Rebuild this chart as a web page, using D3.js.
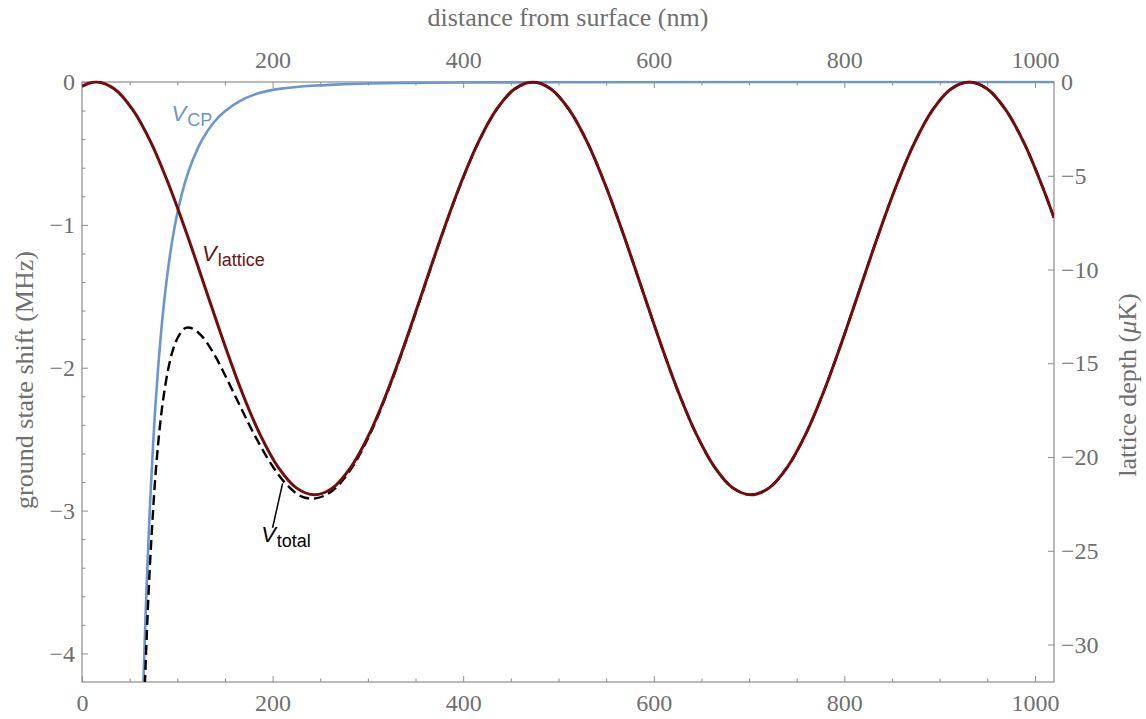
<!DOCTYPE html>
<html>
<head>
<meta charset="utf-8">
<script src="https://d3js.org/d3.v7.min.js"></script>
<style>
  body { margin: 0; background: #fff; }
  svg { display: block; }
  .tick text { font-family: "Liberation Serif", serif; font-size: 24px; fill: #6f6f6f; }
  .tick line { stroke: #8c8c8c; stroke-width: 1; }
  .title { font-family: "Liberation Serif", serif; font-size: 26px; fill: #6f6f6f; }
  .lbl { font-family: "Liberation Sans", Arial, sans-serif; }
</style>
</head>
<body>
<script>
"use strict";

// distance from surface (nm) and lattice potential (MHz)
var latticeX = [0, 15.0, 34.1, 53.2, 72.3, 91.3, 110.4, 129.5, 148.6, 167.7, 186.8,
  205.8, 224.9, 244.0, 263.1, 282.2, 301.3, 320.3, 339.4, 358.5, 377.6, 396.7,
  415.8, 434.8, 453.9, 473.0, 492.1, 511.2, 530.3, 549.3, 568.4, 587.5, 606.6,
  625.7, 644.8, 663.8, 682.9, 702.0, 721.1, 740.2, 759.3, 778.3, 797.4, 816.5,
  835.6, 854.7, 873.8, 892.8, 911.9, 931.0, 950.1, 969.2, 988.3, 1007.3, 1020];
var latticeV = [-0.030, 0, -0.049, -0.194, -0.423, -0.723, -1.071, -1.445, -1.819, -2.168, -2.467,
  -2.696, -2.841, -2.890, -2.841, -2.696, -2.467, -2.168, -1.819, -1.445, -1.071, -0.723,
  -0.423, -0.194, -0.049, 0, -0.049, -0.194, -0.423, -0.723, -1.071, -1.445, -1.819,
  -2.168, -2.467, -2.696, -2.841, -2.890, -2.841, -2.696, -2.467, -2.168, -1.819, -1.445,
  -1.071, -0.723, -0.423, -0.194, -0.049, 0, -0.049, -0.194, -0.423, -0.723, -0.951];

// Casimir-Polder shift (MHz)
var cpX = [63, 64.7, 67.5, 71, 74.5, 77, 79.8, 82.9, 86.1, 90.3, 95.2, 101.5, 108.5, 115.5,
  126, 138, 150, 165, 180, 200, 215, 230, 245, 260, 275, 300, 350, 400, 500, 700, 1020];
var cpV = [-4.55, -4.15, -3.59, -3.01, -2.55, -2.27, -2.01, -1.76, -1.545, -1.31, -1.09, -0.874,
  -0.694, -0.559, -0.405, -0.285, -0.205, -0.135, -0.09, -0.055, -0.042, -0.032, -0.025, -0.02,
  -0.016, -0.011, -0.006, -0.0035, -0.0015, -0.0004, 0];

// total potential (MHz)
var totalX = [63, 64.7, 67.5, 71, 74.5, 77, 79.8, 82.9, 86.1, 90.3, 95.2, 101.5, 108.5, 115.5,
  126, 138, 150, 165, 180, 200, 215, 230, 245,
  263.1, 282.2, 301.3, 320.3, 339.4, 358.5, 377.6, 396.7,
  415.8, 434.8, 453.9, 473.0, 492.1, 511.2, 530.3, 549.3, 568.4, 587.5, 606.6,
  625.7, 644.8, 663.8, 682.9, 702.0, 721.1, 740.2, 759.3, 778.3, 797.4, 816.5,
  835.6, 854.7, 873.8, 892.8, 911.9, 931.0, 950.1, 969.2, 988.3, 1007.3, 1020];
var totalV = [-4.85, -4.47, -3.95, -3.42, -3.01, -2.76, -2.54, -2.34, -2.18, -2.015, -1.88, -1.777,
  -1.722, -1.724, -1.781, -1.898, -2.051, -2.256, -2.458, -2.69, -2.82, -2.90, -2.915,
  -2.860, -2.710, -2.478, -2.176, -1.826, -1.450, -1.075, -0.727,
  -0.426, -0.196, -0.051, -0.001, -0.049, -0.194, -0.423, -0.723, -1.071, -1.445, -1.819,
  -2.168, -2.467, -2.696, -2.841, -2.890, -2.841, -2.696, -2.467, -2.168, -1.819, -1.445,
  -1.071, -0.723, -0.423, -0.194, -0.049, 0, -0.049, -0.194, -0.423, -0.723, -0.951];

var xMajor = [0, 200, 400, 600, 800, 1000];
var xTopMajor = [200, 400, 600, 800, 1000];
var leftMajor = [0, -1, -2, -3, -4];
var rightMajor = [0, -5, -10, -15, -20, -25, -30];

var width = 1146, height = 719;
var padL = 82, padR = 1054, padT = 82, padB = 682;

var svg = d3.select("body").append("svg")
    .attr("width", width)
    .attr("height", height);

var x = d3.scaleLinear().domain([0, 1020]).range([padL, padR]);
var y = d3.scaleLinear().domain([-4.2, 0]).range([padB, padT]);
var y2 = d3.scaleLinear().domain([-32, 0]).range([padB, padT]);

// minor tick positions
var xMinor = d3.range(0, 1021, 50).filter(function(d) { return d % 200 !== 0; });
var yMinor = d3.range(1, 21).map(function(i) { return -i * 0.2; })
    .filter(function(d) { return Math.abs(d - Math.round(d)) > 1e-6; });

var fmt = d3.format("d");
function noLabel() { return ""; }
function noDomain(g) { g.select(".domain").remove(); }

svg.append("g").attr("transform", "translate(0," + padB + ")")
    .call(d3.axisBottom(x).tickValues(xMajor).tickSize(-6).tickPadding(12).tickFormat(fmt))
    .call(noDomain);
svg.append("g").attr("transform", "translate(0," + padB + ")")
    .call(d3.axisBottom(x).tickValues(xMinor).tickSize(-3.5).tickFormat(noLabel))
    .call(noDomain);

svg.append("g").attr("transform", "translate(0," + padT + ")")
    .call(d3.axisTop(x).tickValues(xTopMajor).tickSize(-6).tickPadding(14).tickFormat(fmt))
    .call(noDomain);
svg.append("g").attr("transform", "translate(0," + padT + ")")
    .call(d3.axisTop(x).tickValues(xMinor).tickSize(-3.5).tickFormat(noLabel))
    .call(noDomain);

svg.append("g").attr("transform", "translate(" + padL + ",0)")
    .call(d3.axisLeft(y).tickValues(leftMajor).tickSize(-6).tickPadding(7).tickFormat(fmt))
    .call(noDomain);
svg.append("g").attr("transform", "translate(" + padL + ",0)")
    .call(d3.axisLeft(y).tickValues(yMinor).tickSize(-3.5).tickFormat(noLabel))
    .call(noDomain);

svg.append("g").attr("transform", "translate(" + padR + ",0)")
    .call(d3.axisRight(y2).tickValues(rightMajor).tickSize(-6).tickPadding(7).tickFormat(fmt))
    .call(noDomain);

// frame
svg.append("rect")
    .attr("x", padL).attr("y", padT)
    .attr("width", padR - padL).attr("height", padB - padT)
    .attr("fill", "none").attr("stroke", "#8c8c8c").attr("stroke-width", 1.2);

// axis titles
svg.append("text").attr("class", "title")
    .attr("x", (padL + padR) / 2).attr("y", 26)
    .attr("text-anchor", "middle")
    .text("distance from surface (nm)");
svg.append("text").attr("class", "title")
    .attr("transform", "translate(33," + ((padT + padB) / 2 - 2) + ") rotate(-90)")
    .attr("text-anchor", "middle")
    .text("ground state shift (MHz)");
var rt = svg.append("text").attr("class", "title")
    .attr("transform", "translate(1136," + ((padT + padB) / 2 + 3) + ") rotate(-90)")
    .attr("text-anchor", "middle");
rt.append("tspan").text("lattice depth (");
rt.append("tspan").attr("font-style", "italic").text("\u03bc");
rt.append("tspan").text("K)");

// curves
svg.append("clipPath").attr("id", "plot")
  .append("rect")
    .attr("x", padL).attr("y", padT - 1.5)
    .attr("width", padR - padL).attr("height", padB - padT + 1.5);

var line = d3.line()
    .x(function(d) { return x(d[0]); })
    .y(function(d) { return y(d[1]); })
    .curve(d3.curveCatmullRom.alpha(0.5));

var plot = svg.append("g").attr("clip-path", "url(#plot)");

plot.append("path")
    .datum(d3.zip(cpX, cpV))
    .attr("d", line)
    .attr("fill", "none").attr("stroke", "#6b96cd").attr("stroke-width", 2.6);

plot.append("path")
    .datum(d3.zip(totalX, totalV))
    .attr("d", line)
    .attr("fill", "none").attr("stroke", "#000").attr("stroke-width", 2.4)
    .attr("stroke-dasharray", "10,5");

plot.append("path")
    .datum(d3.zip(latticeX, latticeV))
    .attr("d", line)
    .attr("fill", "none").attr("stroke", "#730c0c").attr("stroke-width", 3);

// curve labels
function label(px, py, main, sub, color) {
  var t = svg.append("text").attr("class", "lbl")
      .attr("x", x(px)).attr("y", y(py)).attr("fill", color);
  t.append("tspan").attr("font-style", "italic").attr("font-size", 22).text(main);
  t.append("tspan").attr("font-size", 18).attr("dx", 1).attr("dy", 5).text(sub);
}
label(94, -0.27, "V", "CP", "#6b96cd");
label(126, -1.25, "V", "lattice", "#6a1410");
label(188, -3.22, "V", "total", "#000");

svg.append("line")
    .attr("x1", x(210.5)).attr("y1", y(-2.81))
    .attr("x2", x(200)).attr("y2", y(-3.12))
    .attr("stroke", "#000").attr("stroke-width", 1.5);
</script>
</body>
</html>
